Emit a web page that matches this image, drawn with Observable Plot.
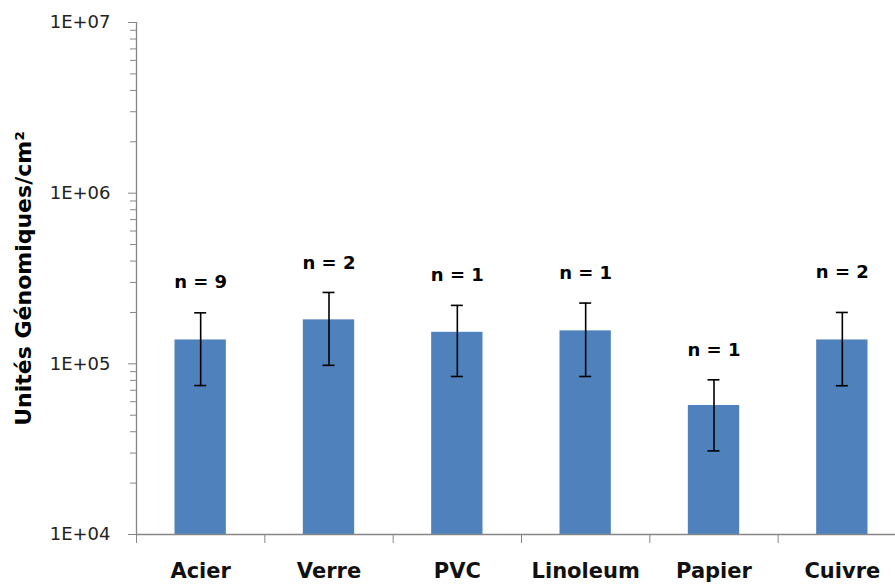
<!DOCTYPE html>
<html>
<head>
<meta charset="utf-8">
<script src="https://cdn.jsdelivr.net/npm/d3@7"></script>
<script src="https://cdn.jsdelivr.net/npm/@observablehq/plot@0.6"></script>
<style>
  html, body { margin: 0; padding: 0; background: #fff; overflow: hidden; }
  #chart svg { display: block; }
</style>
</head>
<body>
<div id="chart"></div>
<script>
const categories = ["Acier", "Verre", "PVC", "Linoleum", "Papier", "Cuivre"];
const values     = [1.38e5, 1.81e5, 1.53e5, 1.56e5, 5.7e4, 1.38e5];
const errLow     = [7.46e4, 9.8e4, 8.43e4, 8.43e4, 3.09e4, 7.44e4];
const errHigh    = [1.99e5, 2.62e5, 2.2e5, 2.27e5, 8.06e4, 2.0e5];
const nLabels    = ["n = 9", "n = 2", "n = 1", "n = 1", "n = 1", "n = 2"];
const nLabelY    = [3.0e5, 3.87e5, 3.29e5, 3.38e5, 1.2e5, 3.43e5];
const yTicks       = [1e4, 1e5, 1e6, 1e7];
const yTickLabels  = ["1E+04", "1E+05", "1E+06", "1E+07"];
const yMinorTicks  = [2e4,3e4,4e4,5e4,6e4,7e4,8e4,9e4,2e5,3e5,4e5,5e5,6e5,7e5,8e5,9e5,2e6,3e6,4e6,5e6,6e6,7e6,8e6,9e6];
const yTitle = "Unités Génomiques/cm²";

const data = categories.map((c, i) => ({
  cat: c, i, value: values[i], lo: errLow[i], hi: errHigh[i], n: nLabels[i], ny: nLabelY[i]
}));

const grey = "#868686";
const font = "DejaVu Sans";

const chart = Plot.plot({
  width: 895,
  height: 585,
  marginLeft: 136,
  marginRight: 0,
  marginTop: 22,
  marginBottom: 51,
  style: { fontFamily: font, background: "#fff", overflow: "visible" },
  x: { type: "linear", domain: [0, categories.length], range: [136, 906] },
  y: { type: "log", domain: [1e4, 1e7] },
  marks: [
    Plot.rectY(data, {
      x1: d => d.i + 0.3, x2: d => d.i + 0.7, y1: 1e4, y2: "value",
      fill: "#4F81BD"
    }),
    Plot.ruleX(data, { x: d => d.i + 0.5, y1: "lo", y2: "hi", stroke: "#000", strokeWidth: 1.6 }),
    Plot.ruleY(data, { x1: d => d.i + 0.5, x2: d => d.i + 0.5, y: "lo", insetLeft: -6, insetRight: -6, stroke: "#000", strokeWidth: 1.6 }),
    Plot.ruleY(data, { x1: d => d.i + 0.5, x2: d => d.i + 0.5, y: "hi", insetLeft: -6, insetRight: -6, stroke: "#000", strokeWidth: 1.6 }),
    Plot.text(data, {
      x: d => d.i + 0.5, y: "ny", text: "n", lineAnchor: "middle",
      fontWeight: "bold", fontSize: 18, fill: "#000"
    }),
    // axes lines
    Plot.ruleX([0], { stroke: grey, strokeWidth: 1.3 }),
    Plot.ruleY([1e4], { stroke: grey, strokeWidth: 1.3 }),
    // y axis major ticks + labels
    Plot.axisY({
      ticks: yTicks, tickSize: 8, tickPadding: 18, stroke: grey,
      tickFormat: (d) => yTickLabels[yTicks.indexOf(d)],
      fontSize: 18, color: "#222", label: null
    }),
    // y axis minor ticks
    Plot.axisY({ ticks: yMinorTicks, tickSize: 6, tickFormat: () => "", stroke: grey, label: null }),
    // x divider ticks
    Plot.axisX({ ticks: d3.range(0, categories.length + 1), tickSize: 9, tickFormat: () => "", stroke: grey, label: null }),
    // x category labels
    Plot.axisX({
      ticks: categories.map((c, i) => i + 0.5), tickSize: 0, tickPadding: 29,
      tickFormat: (d) => categories[Math.floor(d)],
      fontSize: 21, fontWeight: "bold", color: "#111", label: null
    }),
    // y title
    Plot.text([yTitle], {
      text: d => d, frameAnchor: "left", rotate: -90, dx: -113,
      textAnchor: "middle", lineAnchor: "middle",
      fontWeight: "bold", fontSize: 22, fill: "#000"
    })
  ]
});

document.getElementById("chart").append(chart);
</script>
</body>
</html>
